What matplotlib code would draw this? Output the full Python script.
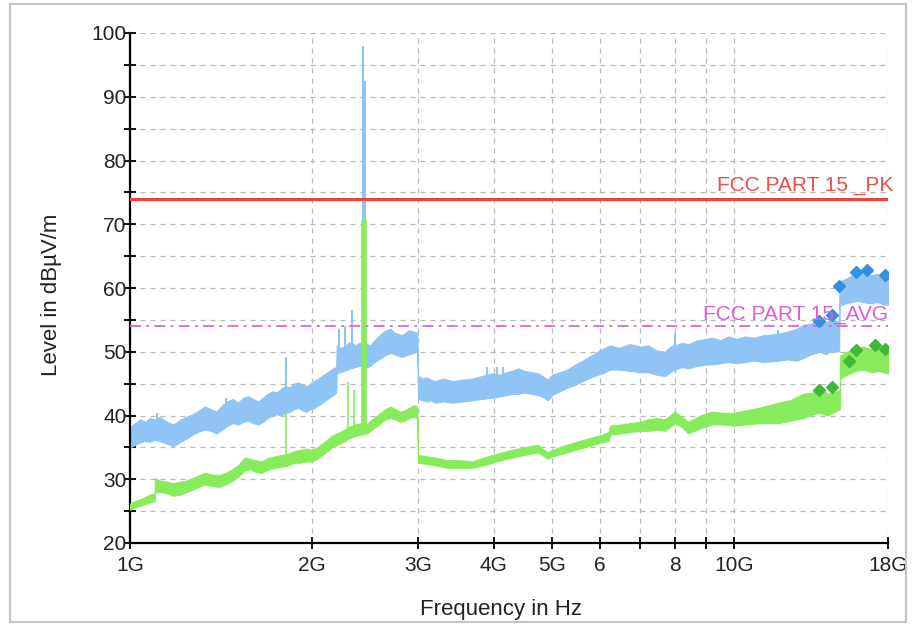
import numpy as np
import matplotlib
matplotlib.use("Agg")
import matplotlib.pyplot as plt
from matplotlib.patches import Rectangle

plt.rcParams['font.family'] = ['Liberation Sans', 'DejaVu Sans']

# peak detector trace, band covered by the noisy sweep (GHz, dBuV/m)
pk_freq = [1.00, 1.02, 1.04, 1.06, 1.08, 1.10, 1.12, 1.15, 1.18, 1.21, 1.24, 1.27,
           1.30, 1.33, 1.36, 1.39, 1.42, 1.45, 1.48, 1.51, 1.54, 1.57, 1.60, 1.63,
           1.66, 1.69, 1.72, 1.75, 1.78, 1.81, 1.84, 1.87, 1.90, 1.93, 1.96, 1.99,
           2.02, 2.05, 2.08, 2.11, 2.14, 2.17, 2.195, 2.20, 2.23, 2.26, 2.29, 2.32,
           2.36, 2.40, 2.47, 2.50, 2.54, 2.58, 2.62, 2.66, 2.70, 2.74, 2.78, 2.82,
           2.86, 2.90, 2.94, 2.99, 3.00, 3.05, 3.10, 3.15, 3.20, 3.30, 3.42, 3.55,
           3.69, 3.83, 3.98, 4.10, 4.20, 4.30, 4.39, 4.50, 4.62, 4.74, 4.85, 4.92,
           5.00, 5.15, 5.30, 5.46, 5.62, 5.80, 5.95, 6.05, 6.24, 6.45, 6.73, 7.00,
           7.21, 7.45, 7.69, 7.85, 7.99, 8.20, 8.40, 8.70, 9.00, 9.20, 9.50, 9.80,
           10.10, 10.44, 10.80, 11.20, 11.84, 12.30, 12.70, 13.02, 13.40, 13.89, 14.20, 14.50,
           14.83, 14.94, 14.96, 15.30, 15.70, 16.00, 16.37, 16.80, 17.30, 17.70, 18.00]
pk_lo = [35.0, 35.4, 35.8, 36.0, 35.9, 36.2, 36.0, 35.6, 35.2, 35.8, 36.4, 37.0,
         37.5, 37.8, 37.6, 37.2, 37.8, 38.4, 38.8, 38.6, 39.0, 39.2, 38.8, 38.6,
         39.0, 39.6, 40.0, 40.2, 40.0, 40.4, 40.6, 41.0, 41.2, 40.8, 40.6, 41.0,
         41.2, 41.6, 42.0, 42.4, 42.8, 43.2, 43.6, 46.6, 46.8, 47.0, 47.2, 47.4,
         47.6, 47.8, 47.6, 47.8, 48.4, 48.8, 49.2, 49.6, 49.8, 49.6, 49.4, 49.2,
         49.4, 49.6, 49.8, 50.0, 42.6, 42.4, 42.2, 42.4, 42.0, 42.2, 42.0, 42.2,
         42.4, 42.6, 42.8, 43.0, 43.2, 43.4, 43.4, 43.6, 43.4, 43.2, 42.8, 42.4,
         43.2, 43.8, 44.4, 44.8, 45.4, 46.0, 46.4, 46.6, 47.2, 47.2, 47.0, 46.8,
         46.8, 46.4, 46.2, 46.8, 47.2, 47.6, 47.4, 47.8, 48.0, 48.0, 48.2, 48.4,
         48.2, 48.4, 48.6, 48.4, 48.6, 48.8, 48.6, 49.0, 49.6, 50.0, 49.6, 50.2,
         50.0, 50.2, 57.2, 57.6, 57.8, 58.0, 57.8, 57.6, 57.8, 57.4, 57.4]
pk_hi = [38.2, 38.8, 39.4, 39.0, 39.6, 39.4, 39.8, 39.0, 38.6, 39.3, 39.8, 40.2,
         40.8, 41.4, 41.0, 40.6, 41.6, 42.2, 42.6, 42.0, 42.8, 43.0, 42.6, 42.2,
         42.8, 43.4, 43.8, 43.6, 44.2, 44.6, 44.4, 45.0, 45.2, 44.8, 44.6, 45.0,
         45.4, 45.8, 46.2, 46.6, 47.0, 47.4, 47.6, 51.0, 50.6, 50.8, 51.2, 51.6,
         51.0, 51.4, 51.2, 51.0, 51.8, 52.4, 53.0, 53.4, 53.6, 53.0, 52.8, 52.6,
         53.0, 53.4, 53.2, 53.0, 46.2, 45.8, 46.0, 45.6, 45.4, 45.8, 45.4, 45.6,
         45.8, 46.2, 46.6, 46.4, 46.8, 47.0, 47.4, 47.0, 46.8, 46.6, 46.0, 45.6,
         46.4, 46.8, 47.2, 48.0, 48.6, 49.4, 50.0, 50.4, 51.0, 50.6, 51.2, 50.8,
         51.0, 50.2, 50.0, 50.8, 51.0, 51.4, 51.2, 51.8, 52.0, 52.2, 51.8, 52.4,
         52.0, 52.4, 52.2, 52.6, 52.8, 53.2, 53.6, 54.2, 54.4, 55.0, 54.6, 55.2,
         54.8, 54.6, 61.0, 61.4, 62.0, 62.4, 62.6, 62.0, 62.2, 61.6, 61.8]

# average detector trace
av_freq = [1.00, 1.02, 1.05, 1.08, 1.099, 1.100, 1.12, 1.15, 1.18, 1.21, 1.24, 1.27,
           1.30, 1.33, 1.36, 1.40, 1.44, 1.48, 1.51, 1.55, 1.58, 1.61, 1.65, 1.70,
           1.74, 1.78, 1.83, 1.87, 1.91, 1.96, 2.00, 2.04, 2.08, 2.12, 2.16, 2.20,
           2.25, 2.30, 2.36, 2.41, 2.47, 2.50, 2.55, 2.60, 2.65, 2.70, 2.75, 2.80,
           2.85, 2.90, 2.95, 2.99, 3.00, 3.10, 3.20, 3.35, 3.50, 3.69, 3.85, 3.98,
           4.20, 4.39, 4.60, 4.74, 4.85, 4.92, 5.00, 5.20, 5.46, 5.75, 6.05, 6.20,
           6.24, 6.50, 6.73, 7.00, 7.21, 7.45, 7.69, 7.99, 8.20, 8.40, 8.80, 9.20,
           9.60, 10.00, 10.44, 11.00, 11.84, 12.40, 13.02, 13.50, 13.89, 14.30, 14.83, 14.98,
           15.00, 15.40, 15.90, 16.37, 16.90, 17.40, 18.00]
av_lo = [25.2, 25.6, 26.0, 26.4, 26.6, 28.0, 28.0, 27.8, 27.4, 27.6, 28.0, 28.4,
         28.8, 29.2, 29.0, 28.8, 29.2, 29.8, 30.4, 31.4, 31.6, 31.2, 31.0, 31.6,
         31.8, 32.0, 32.2, 32.6, 32.6, 32.8, 32.8, 33.2, 33.8, 34.4, 35.0, 35.4,
         35.8, 36.4, 36.8, 37.0, 37.2, 37.6, 38.2, 38.8, 39.4, 39.6, 39.4, 39.0,
         39.2, 39.6, 39.8, 39.6, 32.6, 32.4, 32.2, 31.8, 31.8, 31.8, 32.2, 32.6,
         33.2, 33.6, 34.0, 34.2, 33.6, 33.2, 33.6, 34.0, 34.6, 35.2, 35.8, 36.0,
         37.0, 37.2, 37.4, 37.6, 37.6, 37.8, 37.6, 38.8, 38.2, 37.2, 38.0, 38.6,
         38.6, 38.4, 38.6, 38.8, 38.8, 39.2, 39.6, 40.2, 40.4, 40.0, 40.8, 41.0,
         45.8, 46.4, 47.0, 47.2, 46.8, 47.0, 46.6]
av_hi = [26.2, 26.6, 27.0, 27.6, 27.8, 30.2, 29.8, 29.6, 29.4, 29.6, 29.8, 30.2,
         30.6, 31.0, 30.8, 30.6, 31.0, 31.6, 32.2, 33.4, 33.2, 33.0, 32.8, 33.4,
         33.6, 33.8, 34.0, 34.4, 34.6, 34.8, 34.6, 35.0, 35.6, 36.2, 36.8, 37.2,
         37.6, 38.2, 38.6, 38.8, 38.6, 39.2, 39.8, 40.4, 41.0, 41.4, 41.0, 40.6,
         40.8, 41.2, 41.6, 41.4, 33.8, 33.6, 33.4, 33.0, 33.0, 32.8, 33.4, 33.8,
         34.4, 34.8, 35.2, 35.4, 34.6, 34.2, 34.6, 35.2, 35.8, 36.4, 37.0, 37.4,
         38.4, 38.6, 38.8, 39.0, 39.4, 39.6, 39.4, 40.6, 39.8, 39.0, 40.0, 40.6,
         40.4, 40.4, 40.8, 41.2, 42.0, 42.4, 43.4, 43.6, 44.2, 43.4, 43.8, 44.0,
         49.4, 50.0, 50.6, 50.8, 50.4, 50.6, 50.4]

# narrow spurious emissions (GHz, base, top)
pk_spike_freq = [1.11, 1.44, 1.813, 2.22, 2.27, 2.331, 2.432, 2.450, 3.90, 4.05, 4.15,
                 7.99, 11.84]
pk_spike_base = [39.0, 41.0, 44.0, 50.0, 50.0, 50.0, 50.0, 50.0, 45.5, 46.0, 46.2,
                 50.0, 52.0]
pk_spike_top = [40.4, 42.7, 49.2, 53.5, 54.0, 56.5, 98.0, 92.4, 47.6, 47.6, 47.6,
                52.9, 53.4]

av_spike_freq = [1.813, 2.30, 2.35, 2.44]
av_spike_base = [33.6, 38.0, 38.0, 38.5]
av_spike_top = [40.6, 45.3, 44.0, 70.7]
av_spike_width = [1.2, 1.2, 1.2, 4.0]

# final measurement points
pk_mark_freq = [13.86, 14.53, 14.94, 15.94, 16.60, 17.80]
pk_mark_level = [54.8, 55.8, 60.3, 62.5, 62.8, 62.0]
av_mark_freq = [13.86, 14.53, 15.51, 15.94, 17.13, 17.80]
av_mark_level = [44.0, 44.4, 48.5, 50.2, 51.1, 50.5]

# limit lines
limit_pk = 74
limit_av = 54

xticks = [1, 2, 3, 4, 5, 6, 7, 8, 9, 10, 18]
xtick_labels = ['1G', '2G', '3G', '4G', '5G', '6', '', '8', '', '10G', '18G']

blue = '#8fc4f4'
green = '#86ec5c'

fig = plt.figure(figsize=(9.15, 6.26), dpi=100)
ax = fig.add_axes([130 / 915, 1 - 543 / 626, 758 / 915, 510 / 626])

g = 1e9
ax.fill_between(np.array(pk_freq) * g, pk_lo, pk_hi, color=blue, lw=0.8, zorder=2)
ax.vlines(np.array(pk_spike_freq) * g, pk_spike_base, pk_spike_top,
          color=blue, lw=1.5, zorder=2)
ax.fill_between(np.array(av_freq) * g, av_lo, av_hi, color=green, lw=0.8, zorder=3)
for f, b, t, w in zip(av_spike_freq, av_spike_base, av_spike_top, av_spike_width):
    ax.vlines(f * g, b, t, color=green, lw=w, zorder=3)

ax.axhline(limit_pk, color='#f04040', lw=2.2, zorder=4)
ax.axhline(limit_av, color='#e060e0', lw=1.3, ls=(0, (6, 3, 1.5, 3)), zorder=4)

ax.plot(np.array(pk_mark_freq) * g, pk_mark_level, 'D', color='#3390e0',
        ms=6, mec='#3390e0', zorder=5)
ax.plot(np.array(av_mark_freq) * g, av_mark_level, 'D', color='#40b83a',
        ms=6, mec='#40b83a', zorder=5)

ax.text(1.007, limit_pk + 0.6, 'FCC PART 15 _PK', color='#e85050', fontsize=15,
        ha='right', va='bottom', transform=ax.get_yaxis_transform(), zorder=6)
ax.text(1.0, limit_av + 0.3, 'FCC PART 15_AVG', color='#dc5cdc', fontsize=15,
        ha='right', va='bottom', transform=ax.get_yaxis_transform(), zorder=6)

ax.set_xscale('log')
ax.set_xlim(1 * g, 18 * g)
ax.set_ylim(20, 100)
ax.set_xticks(np.array(xticks) * g)
ax.set_xticklabels(xtick_labels)
ax.xaxis.set_minor_locator(matplotlib.ticker.NullLocator())
ax.set_yticks(np.arange(20, 101, 10))
ax.set_yticks(np.arange(25, 100, 10), minor=True)

ax.tick_params(which='both', direction='inout', length=9, width=1.3,
               labelsize=15, color='black', labelcolor='#222222')
ax.tick_params(axis='x', pad=5)
ax.tick_params(axis='y', pad=-2)

ax.grid(which='both', color='#b8b8b8', ls=(0, (4, 4)), lw=0.9)
ax.set_axisbelow(True)
for s in ['top', 'right']:
    ax.spines[s].set_visible(False)
for s in ['left', 'bottom']:
    ax.spines[s].set_linewidth(1.6)

fig.text(52 / 915, 1 - 295 / 626, 'Level in dBµV/m', rotation=90, fontsize=16,
         ha='center', va='center', color='#222222')
fig.text(501 / 915, 1 - 609 / 626, 'Frequency in Hz', fontsize=16,
         ha='center', va='center', color='#222222')

fig.add_artist(Rectangle((10 / 915, 4 / 626), 896 / 915, 618 / 626,
                         transform=fig.transFigure, fill=False,
                         ec='#c4c4c4', lw=1.5))

fig.savefig('out.png', dpi=100)
